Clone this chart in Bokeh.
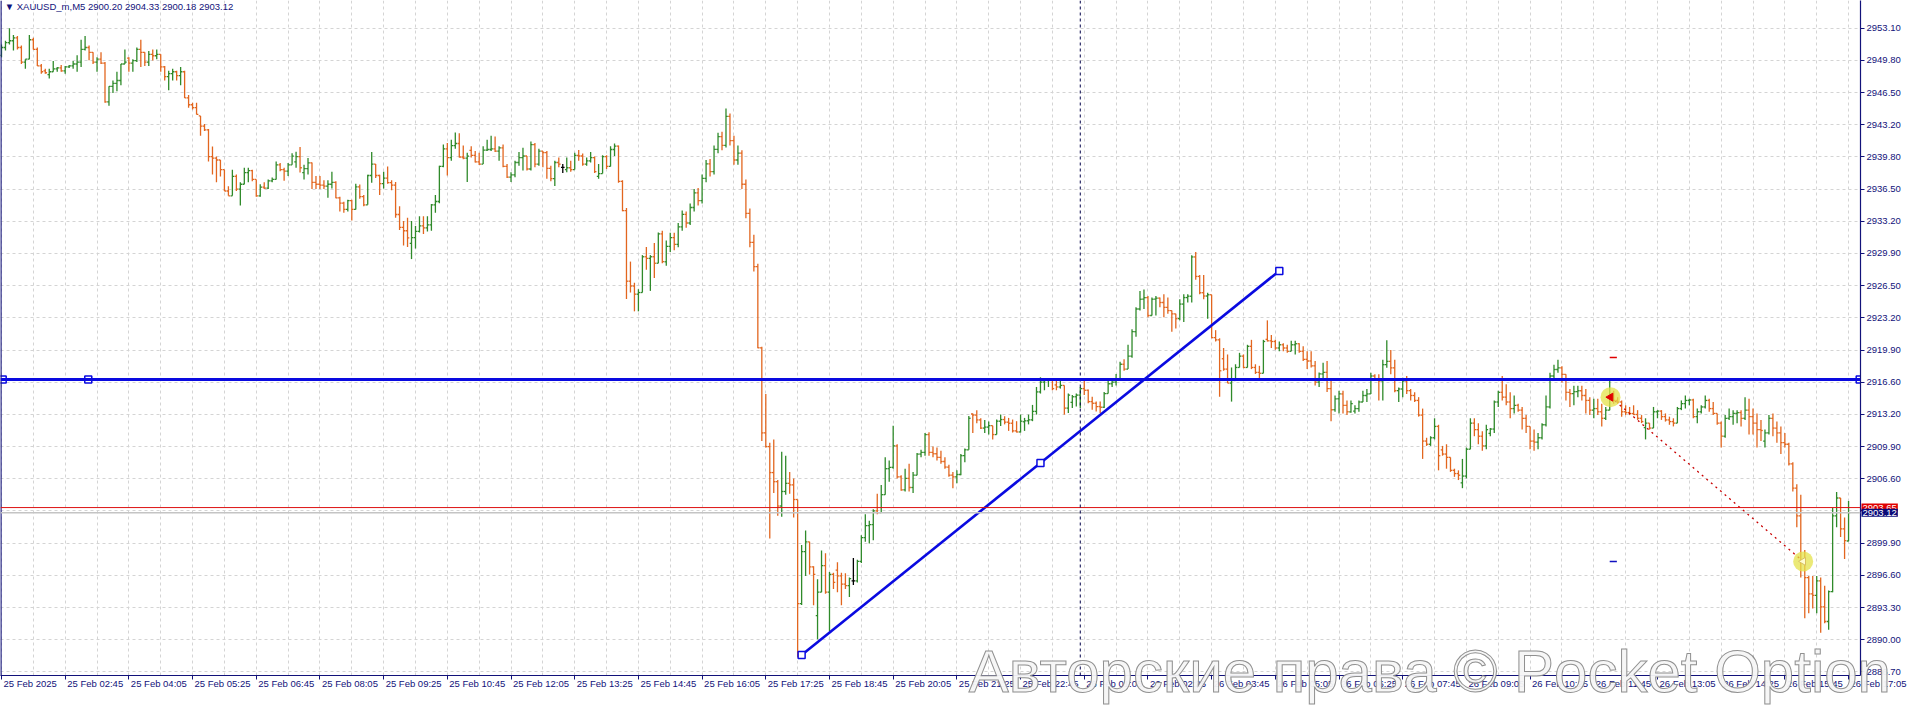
from bokeh.plotting import figure
from bokeh.models import (ColumnDataSource, FixedTicker, Span, Label, Range1d,
                          CustomLabelingPolicy)
from bokeh.embed import file_html
from bokeh.resources import INLINE

# ---------------- data (XAUUSD_m, M5, bar index 0 = 25 Feb 01:25) ----------------
bar_open = [
    2950.3, 2951.1, 2951.6, 2951.8, 2952.1, 2951.1, 2949.6, 2949.9, 2951.9, 2950.9,
    2949.2, 2948.7, 2948.3, 2948.6, 2948.9, 2949.0, 2948.7, 2949.1, 2949.2, 2949.4,
    2949.6, 2950.9, 2951.1, 2950.6, 2949.6, 2949.9, 2949.5, 2945.5, 2947.1, 2947.4,
    2947.7, 2949.4, 2950.0, 2949.5, 2949.75, 2950.9, 2950.6, 2949.6, 2950.4, 2950.25,
    2950.4, 2949.1, 2948.1, 2948.4, 2948.6, 2948.2, 2948.6, 2945.9, 2945.2, 2944.9,
    2944.05, 2943.0, 2942.6, 2939.85, 2939.7, 2939.5, 2938.5, 2936.3, 2935.8, 2937.8,
    2936.5, 2937.0, 2938.2, 2938.4, 2937.5, 2935.8, 2936.7, 2936.6, 2937.35, 2937.5,
    2939.0, 2938.5, 2938.35, 2939.0, 2939.3, 2939.85, 2938.2, 2938.6, 2939.2, 2937.2,
    2937.0, 2936.9, 2936.8, 2937.0, 2937.2, 2935.6, 2935.05, 2934.4, 2935.3, 2934.4,
    2936.73, 2935.72, 2934.88, 2937.9, 2939.08, 2937.9, 2937.06, 2937.63, 2937.16, 2936.9,
    2933.88, 2932.54, 2932.2, 2930.9, 2931.5, 2932.13, 2932.7, 2932.5, 2932.8, 2934.88,
    2935.22, 2938.84, 2940.65, 2939.75, 2940.99, 2941.2, 2939.81, 2939.7, 2940.5, 2939.98,
    2939.31, 2939.08, 2940.52, 2940.58, 2940.65, 2940.42, 2940.75, 2938.84, 2937.73, 2937.97,
    2939.24, 2939.75, 2939.91, 2938.57, 2941.09, 2939.08, 2940.42, 2940.25, 2938.64, 2937.57,
    2939.24, 2938.74, 2938.5, 2938.7, 2938.51, 2939.98, 2939.91, 2939.08, 2939.41, 2939.75,
    2937.8, 2938.1, 2939.85, 2938.84, 2940.58, 2940.92, 2937.3, 2934.28, 2927.0, 2926.5,
    2925.66, 2925.83, 2929.52, 2929.35, 2929.52, 2928.85, 2931.87, 2929.0, 2930.6, 2931.5,
    2930.8, 2932.6, 2933.9, 2933.0, 2934.6, 2936.1, 2935.3, 2937.6, 2939.1, 2938.3,
    2940.6, 2941.9, 2941.0, 2944.0, 2941.5, 2939.5, 2940.2, 2937.0, 2934.0, 2931.0,
    2928.5, 2920.13, 2911.35, 2909.94, 2907.26, 2906.32, 2903.81, 2905.31, 2906.15, 2905.99,
    2904.48, 2893.75, 2899.1, 2900.12, 2897.54, 2892.5, 2894.92, 2897.67, 2894.92, 2896.76,
    2897.2, 2896.6, 2895.76, 2895.59, 2896.1, 2896.1, 2898.11, 2900.55, 2901.79, 2901.9,
    2903.3, 2903.13, 2904.98, 2907.66, 2907.8, 2910.01, 2906.82, 2905.48, 2906.66, 2905.72,
    2906.99, 2909.17, 2909.34, 2911.18, 2909.34, 2909.2, 2908.83, 2908.4, 2907.83, 2906.99,
    2906.82, 2907.06, 2909.0, 2909.61, 2913.3, 2913.19, 2912.69, 2911.85, 2911.95, 2912.1,
    2911.18, 2912.56, 2912.73, 2912.46, 2912.35, 2911.56, 2911.45, 2912.5, 2912.6, 2912.7,
    2913.57, 2915.58, 2916.59, 2916.76, 2916.8, 2916.3, 2916.09, 2916.25, 2913.91, 2914.5,
    2915.08, 2915.25, 2915.92, 2915.75, 2914.58, 2914.41, 2914.07, 2914.0, 2915.41, 2916.42,
    2916.59, 2916.92, 2918.43, 2917.93, 2919.27, 2921.79, 2924.13, 2925.14, 2925.3, 2923.46,
    2925.14, 2925.25, 2924.8, 2924.3, 2923.97, 2923.63, 2923.13, 2924.64, 2925.31, 2925.45,
    2929.5, 2927.49, 2925.81, 2925.47, 2925.6, 2921.18, 2920.95, 2919.0, 2917.93, 2916.49,
    2916.76, 2918.1, 2919.27, 2918.1, 2920.28, 2918.1, 2917.59, 2917.5, 2921.0, 2920.85,
    2920.78, 2920.11, 2920.44, 2920.11, 2919.77, 2920.44, 2920.55, 2919.77, 2918.94, 2918.77,
    2918.27, 2916.59, 2917.43, 2917.6, 2915.92, 2913.74, 2914.87, 2915.37, 2914.2, 2913.53,
    2913.6, 2913.86, 2914.54, 2915.21, 2915.37, 2917.22, 2916.88, 2916.71, 2918.39, 2918.73,
    2918.06, 2915.71, 2915.88, 2916.71, 2915.71, 2915.21, 2914.7, 2913.19, 2910.51, 2910.18,
    2910.85, 2912.02, 2909.6, 2909.17, 2908.83, 2907.49, 2907.16, 2906.2, 2906.9, 2909.67,
    2912.36, 2911.69, 2911.01, 2910.01, 2911.3, 2911.75, 2914.54, 2915.54, 2915.04, 2914.54,
    2913.86, 2914.2, 2913.7, 2912.86, 2912.02, 2910.51, 2910.4, 2910.85, 2912.19, 2914.03,
    2917.22, 2917.89, 2918.06, 2917.39, 2915.54, 2915.4, 2915.6, 2915.7, 2915.21, 2914.7,
    2913.7, 2913.86, 2913.53, 2912.86, 2913.7, 2915.21, 2914.7, 2914.54, 2913.53, 2913.45,
    2913.35, 2913.25, 2912.86, 2911.9, 2912.36, 2911.85, 2913.53, 2913.6, 2913.03, 2912.69,
    2912.52, 2912.36, 2913.86, 2914.37, 2914.7, 2914.75, 2913.03, 2913.53, 2914.03, 2914.7,
    2913.86, 2913.36, 2912.36, 2911.01, 2912.86, 2913.03, 2913.36, 2913.45, 2912.86, 2913.7,
    2913.03, 2912.36, 2911.69, 2910.5, 2911.35, 2912.86, 2911.85, 2911.35, 2910.34, 2910.18,
    2908.16, 2905.65, 2902.8, 2897.94, 2896.43, 2894.75, 2894.6, 2896.1, 2893.41, 2891.9,
    2894.99, 2902.8, 2904.64, 2901.46, 2900.20,
]
bar_high = [
    2951.4, 2951.8, 2953.1, 2952.4, 2952.3, 2951.3, 2949.9, 2952.4, 2952.1, 2951.1,
    2949.4, 2948.9, 2948.9, 2949.7, 2949.1, 2949.3, 2949.2, 2949.3, 2949.7, 2950.3,
    2951.9, 2952.3, 2951.3, 2950.6, 2950.1, 2950.6, 2949.6, 2947.1, 2947.7, 2948.6,
    2949.4, 2950.9, 2950.1, 2949.9, 2951.1, 2951.9, 2950.6, 2950.75, 2950.9, 2950.9,
    2950.4, 2949.2, 2948.7, 2948.9, 2948.7, 2949.1, 2948.7, 2946.2, 2945.4, 2945.4,
    2944.05, 2943.2, 2942.7, 2940.9, 2939.85, 2939.5, 2938.5, 2936.8, 2938.5, 2938.0,
    2937.2, 2938.7, 2938.7, 2938.5, 2937.5, 2937.0, 2937.2, 2937.5, 2937.7, 2939.35,
    2939.2, 2938.7, 2939.2, 2940.2, 2940.35, 2940.85, 2939.0, 2939.7, 2939.25, 2937.85,
    2937.85, 2937.4, 2937.4, 2938.3, 2937.3, 2935.7, 2935.2, 2935.4, 2935.4, 2937.06,
    2936.96, 2935.9, 2937.97, 2940.32, 2939.08, 2937.97, 2938.3, 2938.84, 2937.4, 2937.23,
    2934.72, 2933.21, 2933.54, 2933.21, 2932.7, 2933.71, 2933.71, 2933.71, 2934.95, 2935.89,
    2938.91, 2941.09, 2941.26, 2941.59, 2942.33, 2942.26, 2940.99, 2940.25, 2940.92, 2940.42,
    2940.25, 2940.92, 2941.59, 2941.99, 2941.93, 2940.92, 2941.09, 2939.08, 2938.24, 2939.41,
    2940.32, 2940.75, 2939.91, 2941.42, 2941.26, 2940.65, 2940.42, 2940.42, 2938.91, 2939.41,
    2939.75, 2939.08, 2939.75, 2939.41, 2940.25, 2940.52, 2940.18, 2939.75, 2940.32, 2939.85,
    2939.08, 2939.98, 2939.98, 2940.92, 2941.19, 2940.99, 2937.4, 2934.55, 2929.02, 2926.84,
    2926.17, 2929.69, 2930.53, 2929.69, 2930.93, 2932.03, 2932.2, 2931.2, 2932.0, 2932.0,
    2933.0, 2934.3, 2934.2, 2935.0, 2936.5, 2936.6, 2938.0, 2939.5, 2939.6, 2941.0,
    2942.3, 2942.4, 2944.8, 2944.3, 2942.0, 2941.0, 2940.5, 2937.5, 2934.5, 2931.8,
    2928.8, 2920.24, 2915.37, 2910.34, 2910.68, 2906.49, 2909.4, 2909.0, 2907.33, 2906.66,
    2904.48, 2899.8, 2901.29, 2900.12, 2897.6, 2896.26, 2899.21, 2898.94, 2897.0, 2896.93,
    2898.0, 2896.93, 2896.87, 2896.43, 2898.44, 2898.27, 2900.79, 2902.97, 2902.3, 2903.47,
    2905.08, 2905.99, 2908.83, 2908.5, 2912.09, 2910.18, 2906.99, 2907.66, 2908.16, 2907.33,
    2909.27, 2909.61, 2911.35, 2911.42, 2909.94, 2909.84, 2909.51, 2908.83, 2908.06, 2907.33,
    2907.49, 2909.17, 2909.74, 2913.09, 2913.36, 2913.7, 2912.86, 2912.69, 2912.52, 2912.1,
    2912.73, 2913.24, 2913.07, 2912.9, 2912.73, 2912.56, 2913.24, 2912.9, 2913.24, 2914.24,
    2916.09, 2917.09, 2916.92, 2916.92, 2916.8, 2916.76, 2916.76, 2916.25, 2915.41, 2915.25,
    2915.41, 2916.09, 2916.76, 2915.82, 2915.08, 2914.58, 2914.58, 2915.58, 2916.76, 2916.76,
    2917.43, 2918.7, 2918.94, 2920.44, 2922.05, 2924.3, 2925.98, 2926.14, 2925.47, 2925.31,
    2925.47, 2925.31, 2925.64, 2925.31, 2923.97, 2923.63, 2925.14, 2925.64, 2925.64, 2929.67,
    2930.0, 2927.65, 2927.65, 2925.81, 2925.6, 2921.95, 2921.11, 2920.11, 2919.44, 2918.1,
    2918.43, 2919.61, 2919.44, 2920.44, 2920.95, 2918.43, 2918.27, 2920.95, 2922.96, 2921.45,
    2920.95, 2920.78, 2920.61, 2920.44, 2920.85, 2920.85, 2920.61, 2920.28, 2919.77, 2919.77,
    2918.77, 2917.59, 2918.6, 2918.77, 2916.76, 2915.21, 2915.71, 2915.71, 2914.7, 2914.7,
    2914.2, 2914.7, 2915.71, 2915.88, 2917.55, 2917.39, 2917.39, 2918.89, 2920.91, 2919.9,
    2918.89, 2916.04, 2917.05, 2917.22, 2915.88, 2915.54, 2915.04, 2913.86, 2910.85, 2911.01,
    2912.86, 2912.19, 2910.01, 2910.18, 2908.83, 2907.66, 2907.49, 2908.67, 2909.84, 2912.86,
    2912.86, 2912.36, 2911.52, 2912.19, 2911.85, 2914.7, 2915.71, 2917.22, 2916.38, 2915.54,
    2915.21, 2914.37, 2914.03, 2913.19, 2912.02, 2911.69, 2911.35, 2912.36, 2915.21, 2917.55,
    2918.39, 2918.89, 2918.22, 2917.39, 2915.88, 2916.21, 2916.21, 2916.21, 2915.88, 2915.04,
    2914.87, 2914.87, 2914.37, 2914.03, 2916.71, 2915.71, 2915.04, 2914.7, 2914.2, 2914.03,
    2914.2, 2913.7, 2913.19, 2912.86, 2912.36, 2914.03, 2913.7, 2913.7, 2913.36, 2913.03,
    2912.86, 2914.03, 2914.7, 2915.21, 2914.87, 2914.87, 2913.86, 2914.2, 2915.21, 2914.87,
    2914.54, 2913.36, 2912.52, 2913.19, 2913.86, 2913.7, 2913.7, 2913.7, 2915.04, 2914.87,
    2913.86, 2913.36, 2912.69, 2911.69, 2913.19, 2913.36, 2912.52, 2912.02, 2911.35, 2910.34,
    2908.33, 2906.05, 2904.98, 2899.28, 2896.6, 2896.6, 2896.6, 2896.43, 2895.59, 2895.09,
    2903.64, 2905.25, 2904.64, 2902.63, 2904.33,
]
bar_low = [
    2950.1, 2950.8, 2951.4, 2950.8, 2950.9, 2949.4, 2948.9, 2949.9, 2950.9, 2949.2,
    2948.4, 2948.4, 2947.9, 2948.6, 2948.6, 2948.6, 2948.4, 2949.0, 2948.9, 2948.6,
    2949.1, 2950.8, 2949.8, 2949.4, 2948.6, 2949.4, 2945.4, 2945.1, 2946.4, 2946.6,
    2947.2, 2949.4, 2948.6, 2948.6, 2949.6, 2949.1, 2949.2, 2949.2, 2949.75, 2949.9,
    2948.6, 2947.7, 2946.7, 2947.7, 2947.7, 2947.2, 2945.9, 2944.9, 2944.7, 2944.2,
    2942.0, 2942.5, 2939.35, 2938.0, 2937.2, 2937.8, 2936.3, 2935.8, 2935.8, 2936.3,
    2934.8, 2937.0, 2937.2, 2937.3, 2935.7, 2935.7, 2936.5, 2936.5, 2937.2, 2937.5,
    2938.35, 2937.35, 2937.85, 2939.0, 2938.7, 2938.2, 2937.5, 2938.0, 2936.5, 2936.5,
    2936.5, 2936.5, 2935.6, 2936.56, 2935.55, 2934.2, 2934.05, 2934.2, 2933.27, 2934.4,
    2935.49, 2934.72, 2934.88, 2937.16, 2937.63, 2935.89, 2936.56, 2937.06, 2936.39, 2933.54,
    2932.27, 2930.69, 2930.53, 2929.28, 2930.36, 2932.03, 2931.87, 2932.13, 2932.2, 2934.05,
    2935.05, 2938.74, 2937.9, 2939.41, 2940.65, 2939.75, 2939.58, 2937.23, 2939.75, 2939.24,
    2938.98, 2939.08, 2940.42, 2940.42, 2940.32, 2939.41, 2938.74, 2937.63, 2937.23, 2937.73,
    2938.91, 2938.41, 2938.41, 2938.41, 2938.74, 2938.91, 2938.74, 2937.57, 2937.3, 2936.83,
    2938.74, 2938.17, 2938.24, 2938.3, 2938.51, 2939.41, 2938.91, 2938.91, 2939.24, 2938.17,
    2937.57, 2938.1, 2938.57, 2938.84, 2939.91, 2937.16, 2934.21, 2925.16, 2925.83, 2923.89,
    2923.89, 2925.83, 2928.18, 2926.0, 2927.34, 2928.85, 2928.85, 2928.6, 2930.0, 2930.2,
    2930.5, 2932.2, 2932.5, 2932.8, 2934.2, 2934.8, 2935.0, 2937.2, 2937.8, 2938.0,
    2940.2, 2940.5, 2940.8, 2941.0, 2939.0, 2939.0, 2936.5, 2933.5, 2930.5, 2928.0,
    2920.07, 2910.51, 2909.84, 2900.45, 2905.15, 2902.8, 2902.7, 2904.98, 2905.08, 2902.63,
    2888.21, 2893.6, 2896.6, 2896.76, 2893.58, 2890.06, 2894.92, 2894.75, 2890.9, 2895.26,
    2894.92, 2893.58, 2895.26, 2894.42, 2895.66, 2895.93, 2897.94, 2900.12, 2899.95, 2900.28,
    2902.97, 2903.13, 2904.98, 2906.32, 2907.66, 2906.66, 2905.38, 2905.31, 2905.31, 2905.15,
    2906.99, 2908.83, 2909.0, 2909.0, 2908.83, 2908.5, 2908.16, 2907.66, 2906.82, 2905.65,
    2906.15, 2906.99, 2908.33, 2909.61, 2911.35, 2912.36, 2911.75, 2911.35, 2911.18, 2910.68,
    2911.18, 2912.06, 2912.23, 2911.56, 2911.39, 2911.39, 2911.39, 2911.56, 2912.23, 2912.56,
    2913.24, 2915.41, 2915.75, 2916.09, 2915.75, 2915.75, 2915.92, 2913.24, 2913.4, 2913.91,
    2914.07, 2913.91, 2915.25, 2914.41, 2913.74, 2913.57, 2913.4, 2913.91, 2915.41, 2916.09,
    2916.25, 2916.76, 2917.76, 2917.93, 2919.1, 2921.28, 2923.97, 2924.13, 2923.29, 2923.46,
    2923.46, 2924.3, 2923.29, 2923.63, 2921.79, 2922.12, 2922.96, 2922.79, 2924.8, 2924.8,
    2927.15, 2925.64, 2925.14, 2923.13, 2921.11, 2920.78, 2915.08, 2917.76, 2916.49, 2914.58,
    2916.76, 2918.1, 2918.03, 2918.1, 2917.93, 2917.43, 2916.92, 2917.5, 2920.78, 2920.11,
    2919.94, 2919.77, 2919.77, 2919.61, 2919.77, 2919.44, 2919.61, 2918.77, 2917.93, 2918.1,
    2916.25, 2916.09, 2916.92, 2915.58, 2912.56, 2913.53, 2913.36, 2913.36, 2913.19, 2913.43,
    2913.36, 2913.53, 2914.54, 2914.54, 2915.37, 2916.71, 2914.7, 2914.7, 2918.06, 2917.39,
    2915.54, 2914.54, 2915.04, 2915.37, 2914.7, 2914.54, 2913.03, 2908.67, 2910.01, 2910.01,
    2910.68, 2907.49, 2909.0, 2907.66, 2907.33, 2906.82, 2906.49, 2905.65, 2906.66, 2909.67,
    2911.01, 2910.18, 2909.51, 2909.67, 2911.01, 2911.35, 2914.03, 2914.7, 2914.2, 2912.86,
    2913.36, 2913.53, 2911.69, 2911.35, 2909.67, 2909.51, 2909.67, 2910.68, 2912.02, 2913.86,
    2916.88, 2917.55, 2916.55, 2914.7, 2914.03, 2914.2, 2915.04, 2914.7, 2913.36, 2913.19,
    2912.86, 2913.19, 2912.02, 2912.69, 2913.7, 2914.37, 2914.37, 2913.03, 2913.19, 2913.19,
    2913.19, 2912.69, 2912.36, 2910.68, 2911.69, 2911.85, 2912.86, 2912.69, 2912.52, 2912.19,
    2912.02, 2912.36, 2913.7, 2913.86, 2914.2, 2912.86, 2912.36, 2913.36, 2913.86, 2913.53,
    2913.19, 2912.19, 2909.84, 2910.85, 2912.69, 2912.19, 2912.36, 2912.02, 2912.69, 2911.18,
    2911.18, 2909.84, 2910.51, 2909.84, 2911.18, 2911.01, 2910.34, 2909.17, 2909.84, 2908.0,
    2905.31, 2901.62, 2896.43, 2892.24, 2892.74, 2893.24, 2892.74, 2890.73, 2891.73, 2891.06,
    2894.92, 2901.62, 2900.62, 2898.34, 2900.18,
]
bar_close = [
    2951.1, 2951.6, 2951.8, 2952.1, 2951.1, 2949.6, 2949.9, 2951.9, 2950.9, 2949.2,
    2948.6, 2948.5, 2948.6, 2948.9, 2949.0, 2948.7, 2949.1, 2949.2, 2949.4, 2949.6,
    2950.9, 2951.1, 2950.6, 2949.6, 2949.9, 2949.5, 2945.5, 2947.1, 2947.4, 2947.7,
    2949.4, 2949.6, 2949.5, 2949.75, 2950.9, 2950.6, 2949.6, 2950.4, 2950.25, 2950.4,
    2949.1, 2948.1, 2948.4, 2948.6, 2948.2, 2948.6, 2945.9, 2945.2, 2944.9, 2944.2,
    2943.0, 2942.6, 2939.85, 2939.7, 2939.5, 2938.5, 2936.3, 2935.8, 2937.8, 2936.5,
    2937.0, 2938.2, 2938.4, 2937.5, 2935.8, 2936.7, 2936.6, 2937.35, 2937.5, 2939.0,
    2938.5, 2938.35, 2939.0, 2939.9, 2939.85, 2938.7, 2938.6, 2939.2, 2937.2, 2937.0,
    2936.9, 2936.8, 2937.0, 2937.2, 2935.6, 2935.05, 2934.4, 2935.3, 2934.4, 2936.73,
    2935.72, 2934.88, 2937.9, 2939.08, 2937.9, 2937.06, 2937.63, 2937.16, 2936.9, 2933.88,
    2932.54, 2932.2, 2931.46, 2931.5, 2932.13, 2932.7, 2932.5, 2932.8, 2934.88, 2935.22,
    2938.84, 2940.65, 2939.75, 2940.99, 2941.2, 2939.81, 2939.7, 2939.9, 2939.98, 2939.31,
    2939.08, 2940.52, 2940.58, 2940.65, 2940.42, 2940.75, 2938.84, 2937.73, 2937.97, 2939.24,
    2939.75, 2939.91, 2938.57, 2941.09, 2939.08, 2940.42, 2940.25, 2938.64, 2937.57, 2939.24,
    2939.08, 2938.74, 2938.7, 2938.51, 2939.98, 2939.91, 2939.08, 2939.41, 2939.75, 2938.3,
    2938.1, 2939.85, 2938.84, 2940.58, 2940.92, 2937.3, 2934.28, 2927.0, 2926.5, 2925.66,
    2925.83, 2929.52, 2929.35, 2929.52, 2928.85, 2931.87, 2929.02, 2930.6, 2931.5, 2930.8,
    2932.6, 2933.9, 2933.0, 2934.6, 2936.1, 2935.3, 2937.6, 2939.1, 2938.3, 2940.6,
    2941.9, 2941.0, 2944.0, 2941.5, 2939.5, 2940.2, 2937.0, 2934.0, 2931.0, 2928.5,
    2920.13, 2911.35, 2909.94, 2907.26, 2906.32, 2903.81, 2905.31, 2906.15, 2905.99, 2904.48,
    2893.75, 2899.1, 2900.12, 2897.54, 2896.76, 2894.92, 2897.67, 2894.92, 2896.76, 2895.93,
    2896.6, 2895.76, 2895.59, 2896.33, 2896.1, 2898.11, 2900.55, 2901.79, 2901.9, 2903.3,
    2903.13, 2904.98, 2907.66, 2907.8, 2910.01, 2906.82, 2905.48, 2906.66, 2905.72, 2906.99,
    2909.17, 2909.34, 2911.18, 2909.34, 2909.2, 2908.83, 2908.4, 2907.83, 2906.99, 2906.82,
    2907.06, 2909.0, 2909.61, 2912.86, 2913.19, 2912.69, 2911.85, 2911.95, 2912.1, 2911.18,
    2912.56, 2912.73, 2912.46, 2912.35, 2911.56, 2911.45, 2912.56, 2912.6, 2912.7, 2913.57,
    2915.58, 2916.59, 2916.76, 2916.8, 2915.92, 2916.09, 2916.25, 2913.91, 2915.25, 2915.08,
    2915.25, 2915.92, 2915.75, 2914.58, 2914.41, 2914.07, 2914.0, 2915.41, 2916.42, 2916.59,
    2916.92, 2918.43, 2917.93, 2919.27, 2921.79, 2924.13, 2925.14, 2925.3, 2923.46, 2925.14,
    2925.25, 2924.8, 2924.3, 2923.97, 2923.63, 2923.13, 2924.64, 2925.31, 2925.45, 2929.5,
    2927.49, 2925.81, 2925.47, 2925.6, 2921.18, 2920.95, 2917.76, 2917.93, 2916.49, 2916.76,
    2918.1, 2919.27, 2918.1, 2920.28, 2918.1, 2917.59, 2917.5, 2920.78, 2920.85, 2920.78,
    2920.11, 2920.44, 2920.11, 2919.77, 2920.44, 2920.55, 2919.77, 2918.94, 2918.77, 2918.27,
    2916.59, 2917.43, 2917.6, 2915.92, 2913.74, 2914.87, 2915.37, 2914.2, 2913.53, 2914.37,
    2913.86, 2914.54, 2915.21, 2915.37, 2917.22, 2916.88, 2916.71, 2918.39, 2918.73, 2918.06,
    2915.71, 2915.88, 2916.71, 2915.71, 2915.21, 2914.7, 2913.19, 2910.51, 2910.18, 2910.85,
    2912.02, 2909.0, 2909.17, 2908.83, 2907.49, 2907.16, 2906.99, 2906.9, 2909.67, 2912.36,
    2911.69, 2911.01, 2910.01, 2911.69, 2911.75, 2914.54, 2915.54, 2915.04, 2914.54, 2913.86,
    2914.2, 2913.7, 2912.86, 2912.02, 2910.51, 2910.4, 2910.85, 2912.19, 2914.03, 2917.22,
    2917.89, 2918.06, 2917.39, 2915.54, 2915.4, 2915.6, 2915.7, 2915.21, 2914.7, 2913.7,
    2913.86, 2913.53, 2912.86, 2913.7, 2915.21, 2914.7, 2914.54, 2913.53, 2913.45, 2913.35,
    2913.25, 2912.86, 2912.52, 2912.36, 2911.85, 2913.53, 2913.6, 2913.03, 2912.69, 2912.52,
    2912.36, 2913.86, 2914.37, 2914.7, 2914.75, 2913.03, 2913.53, 2914.03, 2914.7, 2913.86,
    2913.36, 2912.36, 2911.01, 2912.86, 2913.03, 2913.36, 2913.45, 2912.86, 2913.7, 2913.03,
    2912.36, 2911.69, 2911.6, 2911.35, 2912.86, 2911.85, 2911.35, 2910.34, 2910.18, 2908.16,
    2905.65, 2902.8, 2897.94, 2896.43, 2894.75, 2894.6, 2896.1, 2893.41, 2891.9, 2894.99,
    2902.8, 2904.64, 2901.46, 2900.25, 2903.12,
]

time_tick_bars = list(range(0, 465, 16))
time_tick_labels = [
    "25 Feb 2025", "25 Feb 02:45", "25 Feb 04:05", "25 Feb 05:25", "25 Feb 06:45",
    "25 Feb 08:05", "25 Feb 09:25", "25 Feb 10:45", "25 Feb 12:05", "25 Feb 13:25",
    "25 Feb 14:45", "25 Feb 16:05", "25 Feb 17:25", "25 Feb 18:45", "25 Feb 20:05",
    "25 Feb 21:25", "25 Feb 22:45", "26 Feb 01:05", "26 Feb 02:25", "26 Feb 03:45",
    "26 Feb 05:05", "26 Feb 06:25", "26 Feb 07:45", "26 Feb 09:05", "26 Feb 10:25",
    "26 Feb 11:45", "26 Feb 13:05", "26 Feb 14:25", "26 Feb 15:45", "26 Feb 17:05",
]
price_tick_values = [2953.10, 2949.78, 2946.46, 2943.14, 2939.82, 2936.50, 2933.18,
                     2929.86, 2926.54, 2923.22, 2919.90, 2916.58, 2913.26, 2909.94,
                     2906.62, 2903.30, 2899.98, 2896.66, 2893.34, 2890.02, 2886.70]
price_tick_labels = ["2953.10", "2949.80", "2946.50", "2943.20", "2939.80", "2936.50",
                     "2933.20", "2929.90", "2926.50", "2923.20", "2919.90", "2916.60",
                     "2913.20", "2909.90", "2906.60", "", "2899.90", "2896.60",
                     "2893.30", "2890.00", "2886.70"]

bid_price = 2903.12
ask_price = 2903.65
hline_price = 2916.85
hline_anchor_bars = [0.3, 21.8, 466.8]
trend_bars = [201, 321]
trend_prices = [2888.45, 2928.06]
trend_mid_bar = 261
trend_mid_price = 2908.25
vline_bar = 271
trade_bars = [404.2, 452.6]
trade_prices = [2915.04, 2898.10]
sl_price = 2919.13
tp_price = 2898.10
level_bar = 404.9

title_text = "\u25bc XAUUSD_m,M5  2900.20 2904.33 2900.18 2903.12"
watermark_text = "Авторские права © Pocket Option"

# ---------------- styling ----------------
UP = "#2f8a2a"
DN = "#e2661f"
DOJI = "#000000"
NAVY = "#12127a"
BLUE = "#0a0ae0"
GRID = "#d4d4d4"
FONT = "Liberation Sans"
X0, X1 = -0.25, 467.0
Y0, Y1 = 2886.33, 2955.95

n = len(bar_close)
xs = list(range(n))
colors = [UP if c > o else (DN if c < o else DOJI) for o, c in zip(bar_open, bar_close)]
src = ColumnDataSource(dict(
    x=xs,
    xl=[i - 0.45 for i in xs],
    xr=[i + 0.45 for i in xs],
    o=bar_open,
    c=bar_close,
    h=[max(h, o, c) for h, o, c in zip(bar_high, bar_open, bar_close)],
    l=[min(l, o, c) for l, o, c in zip(bar_low, bar_open, bar_close)],
    color=colors,
))

p = figure(frame_width=1860, frame_height=675,
           x_range=Range1d(X0, X1), y_range=Range1d(Y0, Y1),
           output_backend="svg", toolbar_location=None,
           y_axis_location="right",
           min_border_left=0, min_border_right=0, min_border_top=0, min_border_bottom=17,
           background_fill_color="white", border_fill_color="white")
p.outline_line_color = None

# grid
p.xgrid.ticker = FixedTicker(ticks=list(range(0, 468, 8)))
p.ygrid.ticker = FixedTicker(ticks=price_tick_values)
for g in (p.xgrid, p.ygrid):
    g.grid_line_color = GRID
    g.grid_line_dash = "3 3"
    g.grid_line_width = 1

# axes (time labels are drawn left-aligned by Labels below the time axis)
xa = p.xaxis[0]
xa.ticker = FixedTicker(ticks=time_tick_bars)
xa.major_label_policy = CustomLabelingPolicy(code="return new Set()")
xa.major_label_standoff = 0
ya = p.yaxis[0]
ya.ticker = FixedTicker(ticks=price_tick_values)
ya.major_label_overrides = {v: t for v, t in zip(price_tick_values, price_tick_labels)}
ya.major_label_text_color = NAVY
ya.major_label_text_font = FONT
ya.major_label_text_font_size = "9.5px"
ya.major_label_standoff = 2
for ax in (xa, ya):
    ax.axis_line_color = NAVY
    ax.axis_line_width = 1.2
    ax.major_tick_line_color = NAVY
    ax.major_tick_in = 0
    ax.major_tick_out = 4
    ax.minor_tick_line_color = None

for b, t in zip(time_tick_bars, time_tick_labels):
    p.add_layout(Label(x=b + 0.5, y=Y0 - 0.3, text=t, text_color=NAVY,
                       text_font=FONT, text_font_size="9.5px", text_align="left",
                       text_baseline="top"), "below")

# left border
p.add_layout(Span(location=-0.15, dimension="height", line_color=NAVY, line_width=1.5))

# bid / ask lines
p.add_layout(Span(location=bid_price, dimension="width", line_color="#c4c4c4", line_width=1.5))
p.add_layout(Span(location=ask_price, dimension="width", line_color="#dd1010", line_width=1))

# OHLC bars
p.segment(x0="x", y0="l", x1="x", y1="h", color="color", line_width=1.3, source=src)
p.segment(x0="xl", y0="o", x1="x", y1="o", color="color", line_width=1.3, source=src)
p.segment(x0="x", y0="c", x1="xr", y1="c", color="color", line_width=1.3, source=src)

# vertical dashed cursor line
p.add_layout(Span(location=vline_bar, dimension="height", line_color="#00004a",
                  line_dash="3 3", line_width=1))

# horizontal blue level
p.add_layout(Span(location=hline_price, dimension="width", line_color=BLUE, line_width=3))
p.scatter(hline_anchor_bars, [hline_price] * len(hline_anchor_bars), marker="square",
          size=7, fill_color="white", line_color=BLUE, line_width=1.5)

# trend line
p.line(trend_bars, trend_prices, line_color=BLUE, line_width=2.6)
p.scatter(trend_bars + [trend_mid_bar], trend_prices + [trend_mid_price], marker="square",
          size=7, fill_color="white", line_color=BLUE, line_width=1.5)

# trade history
p.line(trade_bars, trade_prices, line_color="#c80000", line_dash="2 4", line_width=1.3)
p.scatter(trade_bars, trade_prices, size=20, fill_color="#e4e24a", fill_alpha=0.75, line_color=None)
p.scatter([trade_bars[0]], [trade_prices[0]], marker="triangle", angle=1.5708, size=8,
          fill_color="#e00000", line_color="#e00000")
p.scatter([trade_bars[1]], [trade_prices[1]], marker="triangle", angle=1.5708, size=8,
          fill_color="#fffbd0", line_color="#d8c060")
p.segment([level_bar - 0.9], [sl_price], [level_bar + 0.9], [sl_price], line_color="#e00000", line_width=1.5)
p.segment([level_bar - 0.9], [tp_price], [level_bar + 0.9], [tp_price], line_color="#1010c0", line_width=1.5)

# price boxes on the price scale
p.add_layout(Label(x=X1, y=ask_price, x_offset=1, text="2903.65", text_color="white",
                   text_font=FONT, text_font_size="9.5px", text_baseline="middle",
                   background_fill_color="#e00000", padding=1), "right")
p.add_layout(Label(x=X1, y=bid_price, x_offset=1, text="2903.12", text_color="white",
                   text_font=FONT, text_font_size="9.5px", text_baseline="middle",
                   background_fill_color="#0a0a78", padding=1), "right")

# title
p.add_layout(Label(x=0.8, y=Y1, text=title_text, text_color=NAVY, text_font=FONT,
                   text_font_size="9.5px", text_baseline="top"))

# watermark (drawn over everything, like the screenshot overlay)
p.add_layout(Label(x=243.0, y=2886.75, text=watermark_text, text_color="#f6f6f6",
                   text_alpha=0.95, text_outline_color="#8a8a8a", level="overlay",
                   text_font=FONT, text_font_size="60px", text_baseline="alphabetic"), "below")

open("out.html", "w").write(file_html(p, INLINE))
